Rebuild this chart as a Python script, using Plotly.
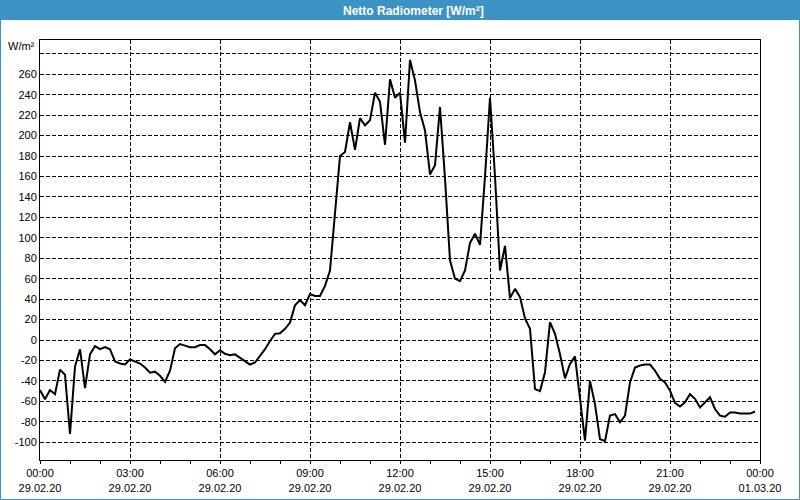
import pandas as pd
import plotly.graph_objects as go

# Netto Radiometer values [W/m²], 10-minute steps from 29.02.20 00:00
values = [
    -49, -58, -49, -53, -29, -34, -92, -26, -9, -47,
    -14, -6, -9, -7, -9, -21, -23, -24, -19, -21,
    -23, -27, -32, -31, -35, -41, -30, -8, -4, -5.5,
    -7, -7, -5, -5, -9, -14, -10, -13.5, -15, -14,
    -17.5, -21, -24, -22, -16, -9, -1, 6, 6.5, 11,
    17, 34, 39, 34, 45, 43, 43, 53, 68, 124,
    180, 184, 213, 186, 217, 210, 215, 242, 233, 191,
    255, 237, 242, 193, 274, 254, 223, 205, 162, 171,
    228, 158, 78, 60, 57.5, 68, 95, 104, 93, 160,
    237, 160, 68, 92, 41, 50, 42, 21, 11, -48,
    -50, -31.5, 17.5, 6, -14, -37.5, -23.5, -16, -55, -98.5,
    -40, -63, -97, -99, -74, -72.5, -80.5, -74, -41.5, -27,
    -25, -24, -24, -30, -38, -41.5, -49.5, -61.5, -65, -61,
    -53, -57.5, -66, -61, -56, -67.5, -74, -75, -71, -71,
    -72, -72, -72, -70,
]
times = pd.date_range("2020-02-29 00:00", periods=len(values), freq="10min")

x_tickvals = ["2020-02-29 00:00", "2020-02-29 03:00", "2020-02-29 06:00",
              "2020-02-29 09:00", "2020-02-29 12:00", "2020-02-29 15:00",
              "2020-02-29 18:00", "2020-02-29 21:00", "2020-03-01 00:00"]
x_ticktext = ["00:00<br>29.02.20", "03:00<br>29.02.20", "06:00<br>29.02.20",
              "09:00<br>29.02.20", "12:00<br>29.02.20", "15:00<br>29.02.20",
              "18:00<br>29.02.20", "21:00<br>29.02.20", "00:00<br>01.03.20"]
y_tickvals = list(range(-100, 281, 20))
y_ticktext = [str(v) for v in y_tickvals[:-1]] + [""]

title_text = "Netto Radiometer [W/m²]"
unit_text = "W/m²"

W, H = 800, 500
L, R, T, B = 40, 40, 40, 40
pw, ph = W - L - R, H - T - B


def px(xp):
    return (xp - L) / pw


def py(yp):
    return (H - B - yp) / ph


fig = go.Figure()
fig.add_trace(go.Scatter(x=times, y=values, mode="lines",
                         line=dict(color="black", width=2), showlegend=False))

font = dict(family="Liberation Sans, Arial, sans-serif", size=11, color="black")

fig.update_layout(
    width=W, height=H,
    margin=dict(l=L, r=R, t=T, b=B, autoexpand=False),
    paper_bgcolor="white", plot_bgcolor="white",
    font=font,
    xaxis=dict(
        type="date",
        range=["2020-02-29 00:00", "2020-03-01 00:00"],
        tickmode="array", tickvals=x_tickvals, ticktext=x_ticktext,
        ticks="outside", ticklen=3, tickcolor="black", tickwidth=1,
        showgrid=True, gridcolor="black", gridwidth=1, griddash="4px,2px",
        showline=True, linecolor="black", linewidth=1, mirror=True,
        zeroline=False, tickfont=font,
        minor=dict(dtick=3600000, ticks="outside", ticklen=3,
                   tickcolor="black", showgrid=False),
    ),
    yaxis=dict(
        range=[-117.4, 293.5],
        tickmode="array", tickvals=y_tickvals, ticktext=y_ticktext,
        ticks="", showgrid=True, gridcolor="black", gridwidth=1,
        griddash="4px,2px",
        showline=True, linecolor="black", linewidth=1, mirror=True,
        zeroline=False, tickfont=font,
    ),
    shapes=[
        dict(type="rect", xref="paper", yref="paper",
             x0=px(0), x1=px(800), y0=py(20), y1=py(0),
             fillcolor="#3c92c5", line=dict(width=0), layer="above"),
        dict(type="rect", xref="paper", yref="paper",
             x0=px(0.5), x1=px(799.5), y0=py(499.5), y1=py(0.5),
             line=dict(color="#3c92c5", width=1), layer="above"),
    ],
    annotations=[
        dict(text="<b>" + title_text + "</b>", xref="paper", yref="paper",
             x=px(413), y=py(10.5), xanchor="center", yanchor="middle",
             showarrow=False,
             font=dict(family="Liberation Sans, Arial, sans-serif", size=12,
                       color="white")),
        dict(text=unit_text, xref="paper", yref="paper",
             x=px(37), y=py(46), xanchor="right", yanchor="middle",
             showarrow=False, font=font),
    ],
)

fig.write_html("out.html")
